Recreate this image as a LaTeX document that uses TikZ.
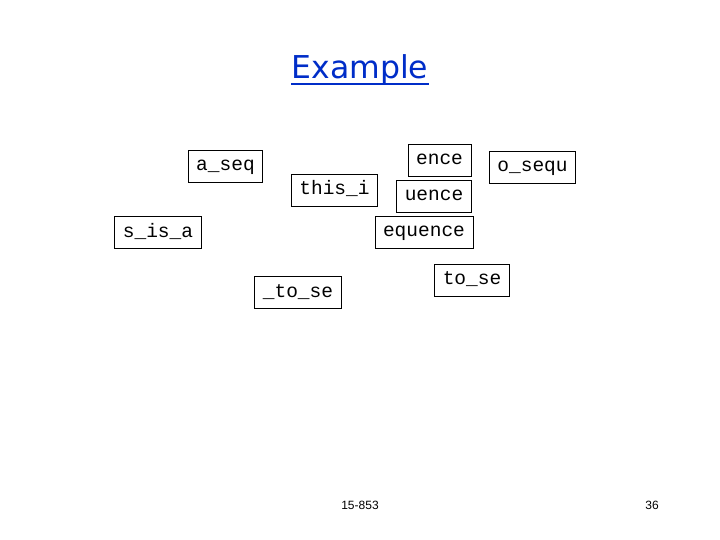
\documentclass[tikz,border=0pt]{standalone}
\usepackage{fontspec}
\setmainfont{DejaVu Sans}
\setmonofont{Liberation Mono}
\newfontfamily\footfont{Liberation Sans}
\definecolor{titleblue}{RGB}{0,45,200}
\tikzset{
	piece/.style={draw, line width=.8pt, font=\fontsize{19.5}{20}\selectfont\ttfamily, inner xsep=8pt, inner ysep=0pt, minimum height=32pt, text height=13pt, text depth=4pt},
	foot/.style={font=\fontsize{12}{12}\selectfont\footfont, inner sep=0pt, anchor=base}
}
\begin{document}
			\begin{tikzpicture}[x=1pt,y=-1pt]
			    \useasboundingbox (0,0) rectangle (720,540);
			    \node [font=\fontsize{31.5}{32}\selectfont, color=titleblue, inner sep=0pt, anchor=base] (title) at (360,79) {Example};
			    \draw [titleblue, line width=2pt] ([yshift=-5pt]title.base west) -- ([yshift=-5pt]title.base east);
			    \node [piece] (aseq) at (225.5,166.5) {a\_seq};
			    \node [piece] (thisi) at (334.5,190.5) {this\_i};
			    \node [piece] (ence) at (439.5,160) {ence};
			    \node [piece] (uence) at (434,196) {uence};
			    \node [piece] (osequ) at (532.5,167) {o\_sequ};
			    \node [piece] (sisa) at (158,232.5) {s\_is\_a};
			    \node [piece] (equence) at (424,232) {equence};
			    \node [piece] (utose) at (298,292.5) {\_to\_se};
			    \node [piece] (tose) at (472,280) {to\_se};
			    \node [foot] (course) at (360,509) {15-853};
			    \node [foot] (page) at (652,509) {36};
			\end{tikzpicture}
\end{document}
